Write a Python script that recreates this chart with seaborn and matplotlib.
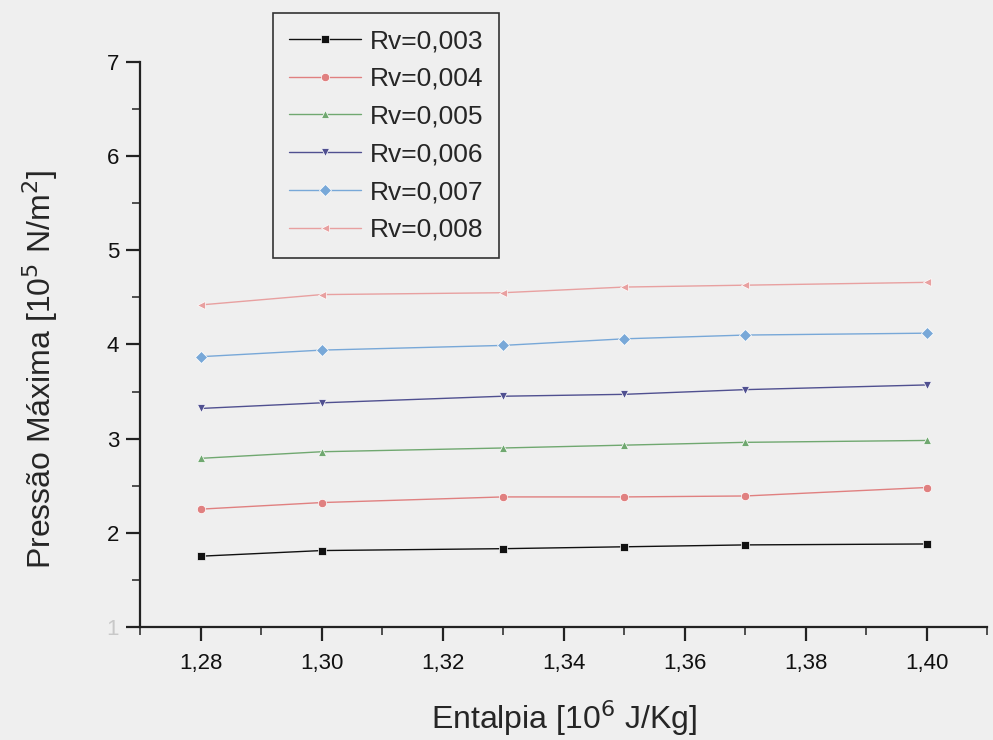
import numpy as np
import pandas as pd
import matplotlib
matplotlib.use("Agg")
import matplotlib.pyplot as plt
import seaborn as sns
from matplotlib.ticker import MultipleLocator, FuncFormatter

entalpia = [1.28, 1.30, 1.33, 1.35, 1.37, 1.40]
series_names = ["Rv=0,003", "Rv=0,004", "Rv=0,005", "Rv=0,006", "Rv=0,007", "Rv=0,008"]
rv_003 = [1.75, 1.81, 1.83, 1.85, 1.87, 1.88]
rv_004 = [2.25, 2.32, 2.38, 2.38, 2.39, 2.48]
rv_005 = [2.79, 2.86, 2.90, 2.93, 2.96, 2.98]
rv_006 = [3.32, 3.38, 3.45, 3.47, 3.52, 3.57]
rv_007 = [3.87, 3.94, 3.99, 4.06, 4.10, 4.12]
rv_008 = [4.42, 4.53, 4.55, 4.61, 4.63, 4.66]
all_values = [rv_003, rv_004, rv_005, rv_006, rv_007, rv_008]

colors = ["#111111", "#e08080", "#70a870", "#505090", "#78a8d8", "#e8a0a0"]
markers = ["s", "o", "^", "v", "D", "<"]

rows = []
for name, vals in zip(series_names, all_values):
    for x, y in zip(entalpia, vals):
        rows.append({"Entalpia": x, "Pressao": y, "Serie": name})
df = pd.DataFrame(rows)

sns.set_style("white")
plt.rcParams["font.family"] = ["Liberation Sans", "DejaVu Sans"]
bg = "#efefef"
fig = plt.figure(figsize=(9.93, 7.40), dpi=100, facecolor=bg)
ax = fig.add_axes([0.141, 0.153, 0.853, 0.763])
ax.set_facecolor(bg)

sns.lineplot(data=df, x="Entalpia", y="Pressao", hue="Serie", style="Serie",
             palette=dict(zip(series_names, colors)),
             markers=dict(zip(series_names, markers)),
             dashes=False, linewidth=1.0, markersize=6, markeredgewidth=0.5,
             ax=ax, legend=True)

ax.set_xlim(1.27, 1.41)
ax.set_ylim(1, 7)
ax.xaxis.set_major_locator(MultipleLocator(0.02))
ax.xaxis.set_minor_locator(MultipleLocator(0.01))
ax.yaxis.set_major_locator(MultipleLocator(1))
ax.yaxis.set_minor_locator(MultipleLocator(0.5))
ax.xaxis.set_major_formatter(FuncFormatter(lambda v, p: f"{v:.2f}".replace(".", ",")))
ax.yaxis.set_major_formatter(FuncFormatter(lambda v, p: f"{v:.0f}"))

for s in ["top", "right"]:
    ax.spines[s].set_visible(False)
for s in ["left", "bottom"]:
    ax.spines[s].set_color("#222222")
    ax.spines[s].set_linewidth(1.6)

ax.tick_params(axis="both", which="both", bottom=True, left=True, top=False, right=False)
ax.tick_params(axis="both", which="major", direction="out", length=10, width=1.6,
               colors="#222222", labelsize=16, labelcolor="#111111")
ax.tick_params(axis="both", which="minor", direction="out", length=6, width=1.2,
               colors="#333333")
ax.tick_params(axis="x", pad=9)
ax.tick_params(axis="y", pad=5)
fig.canvas.draw()
for lbl in ax.get_yticklabels():
    if lbl.get_text() == "1":
        lbl.set_color("#c8c8c8")

ax.set_xlabel("Entalpia [10$^6$ J/Kg]", fontsize=23)
ax.set_ylabel("Pressão Máxima [10$^5$ N/m$^2$]", fontsize=23)
ax.xaxis.set_label_coords(0.5, -0.126)
ax.yaxis.set_label_coords(-0.095, 0.455)

handles, labels = ax.get_legend_handles_labels()
leg = ax.legend(handles, labels, loc="upper left",
                bbox_to_anchor=(0.275, 0.982), bbox_transform=fig.transFigure,
                borderaxespad=0.0,
                fontsize=19, frameon=True, fancybox=False, edgecolor="#333333",
                facecolor=bg, framealpha=1.0, handlelength=2.75,
                labelspacing=0.52, borderpad=0.6, handletextpad=0.3)
leg.get_frame().set_linewidth(1.2)

fig.savefig("out.png", dpi=100, facecolor=bg)
